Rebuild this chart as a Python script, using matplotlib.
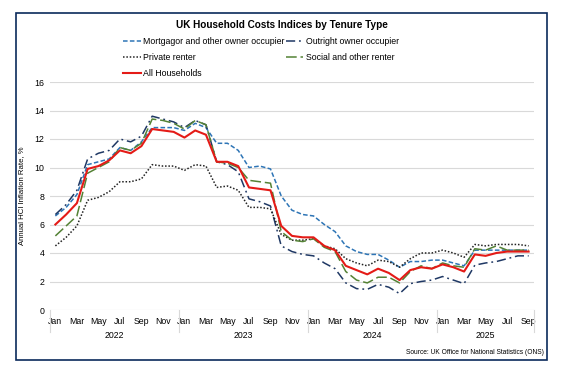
import numpy as np
import matplotlib
matplotlib.use('Agg')
import matplotlib.pyplot as plt
from matplotlib.patches import Rectangle

plt.rcParams['font.family'] = ['Liberation Sans', 'DejaVu Sans']

months = ['Jan', 'Feb', 'Mar', 'Apr', 'May', 'Jun', 'Jul', 'Aug', 'Sep', 'Oct', 'Nov', 'Dec'] * 3 + \
         ['Jan', 'Feb', 'Mar', 'Apr', 'May', 'Jun', 'Jul', 'Aug', 'Sep']
years = ['2022', '2023', '2024', '2025']

mortgagor = [6.6, 7.2, 8.1, 10.2, 10.4, 10.6, 11.4, 11.2, 11.8, 12.8, 12.8, 12.8,
             12.6, 13.1, 12.8, 11.7, 11.7, 11.2, 10.0, 10.1, 9.9, 8.0, 7.0, 6.7,
             6.6, 6.0, 5.5, 4.5, 4.1, 3.9, 3.9, 3.5, 3.0, 3.4, 3.4, 3.5,
             3.5, 3.3, 3.1, 4.2, 4.2, 4.2, 4.2, 4.2, 4.2]
outright = [6.7, 7.4, 8.4, 10.6, 11.0, 11.2, 12.0, 11.8, 12.2, 13.6, 13.4, 13.2,
            12.8, 13.3, 13.0, 10.4, 10.2, 9.7, 7.8, 7.6, 7.3, 4.5, 4.1, 3.9,
            3.8, 3.3, 2.9, 1.9, 1.5, 1.45, 1.8, 1.6, 1.15, 1.85, 2.0, 2.1,
            2.35, 2.1, 1.85, 3.15, 3.3, 3.4, 3.6, 3.8, 3.8]
private = [4.5, 5.1, 5.9, 7.7, 7.9, 8.3, 9.0, 9.0, 9.2, 10.2, 10.1, 10.1,
           9.8, 10.2, 10.1, 8.6, 8.7, 8.4, 7.2, 7.2, 7.1, 5.3, 4.9, 4.9,
           5.0, 4.5, 4.3, 3.6, 3.3, 3.1, 3.5, 3.4, 3.0, 3.6, 4.0, 4.0,
           4.2, 4.0, 3.7, 4.6, 4.5, 4.6, 4.6, 4.6, 4.5]
social = [5.2, 5.9, 6.6, 9.6, 10.0, 10.4, 11.4, 11.2, 11.7, 13.4, 13.3, 13.1,
          12.7, 13.3, 13.0, 10.4, 10.3, 10.0, 9.1, 9.0, 8.9, 5.5, 4.9, 4.8,
          5.0, 4.4, 4.1, 2.7, 2.1, 1.9, 2.3, 2.3, 1.9, 2.7, 3.1, 2.9,
          3.3, 3.1, 3.0, 4.3, 4.2, 4.5, 4.2, 4.2, 4.2]
all_households = [6.0, 6.7, 7.5, 9.9, 10.1, 10.5, 11.2, 11.0, 11.5, 12.7, 12.6, 12.5,
                  12.1, 12.6, 12.3, 10.4, 10.4, 10.1, 8.6, 8.5, 8.4, 5.9, 5.2, 5.1,
                  5.1, 4.5, 4.2, 3.1, 2.8, 2.5, 2.9, 2.6, 2.1, 2.8, 3.0, 2.9,
                  3.2, 3.0, 2.7, 3.9, 3.8, 4.0, 4.1, 4.1, 4.1]

W, H = 561, 368
fig = plt.figure(figsize=(W / 100, H / 100), dpi=100)
ax = fig.add_axes([50 / W, 1 - 310 / H, 484 / W, 228 / H])

x = np.arange(len(months))

# series, drawn in Excel order (red on top)
ax.plot(x, mortgagor, color='#2E75B6', lw=1.1, dashes=(3, 1.5), label='Mortgagor and other owner occupier')
ax.plot(x, outright, color='#1F3864', lw=1.1, dashes=(6, 2.5, 1.2, 2.5), label='Outright owner occupier')
ax.plot(x, private, color='#222222', lw=1.1, dashes=(1, 1.2), label='Private renter')
ax.plot(x, social, color='#548235', lw=1.1, dashes=(7, 2.5), label='Social and other renter')
ax.plot(x, all_households, color='#E41B17', lw=1.5, label='All Households')

ax.set_xlim(-0.5, len(months) - 0.5)
ax.set_ylim(0, 16)
ax.set_yticks(range(0, 17, 2))
ax.yaxis.grid(True, color='#D9D9D9', lw=0.8)
ax.set_axisbelow(True)
for s in ax.spines.values():
    s.set_visible(False)
ax.tick_params(axis='y', length=0, labelsize=6.3, pad=4)
ax.set_ylabel('Annual HCI Inflation Rate, %', fontsize=5.6)
ax.yaxis.set_label_coords(-25 / 484, 0.5)

# category axis: month labels every other month + year groups
ax.set_xticks(x[::2])
ax.set_xticklabels(months[::2], fontsize=6.3)
ax.tick_params(axis='x', length=0, pad=5)

bounds = [-0.5, 11.5, 23.5, 35.5, len(months) - 0.5]
for b in bounds:
    ax.plot([b, b], [0, -1.55], color='#D9D9D9', lw=0.8, clip_on=False)
for i, yr in enumerate(years):
    mid = (bounds[i] + bounds[i + 1]) / 2
    ax.text(mid, -1.8, yr, ha='center', va='center', fontsize=6.3)

# legend: two columns, filled column-wise
h, l = ax.get_legend_handles_labels()
order = [0, 2, 4, 1, 3]
fig.legend([h[i] for i in order], [l[i] for i in order], ncol=2, frameon=False,
           fontsize=6.3, loc='center', bbox_to_anchor=(261 / W, 1 - 57.5 / H),
           handlelength=2.0, handletextpad=0.3, columnspacing=0.1, labelspacing=0.75)

fig.text(282 / W, 1 - 25 / H, 'UK Household Costs Indices by Tenure Type',
         ha='center', va='center', fontsize=7.2, fontweight='bold')
fig.text(544 / W, 1 - 352 / H, 'Source: UK Office for National Statistics (ONS)',
         ha='right', va='center', fontsize=4.8)

# outer frame
fig.patches.append(Rectangle((16 / W, 1 - 360 / H), 531 / W, 347 / H, transform=fig.transFigure,
                             fill=False, edgecolor='#0B2A5B', lw=1.2))

plt.savefig('out.png', dpi=100)
